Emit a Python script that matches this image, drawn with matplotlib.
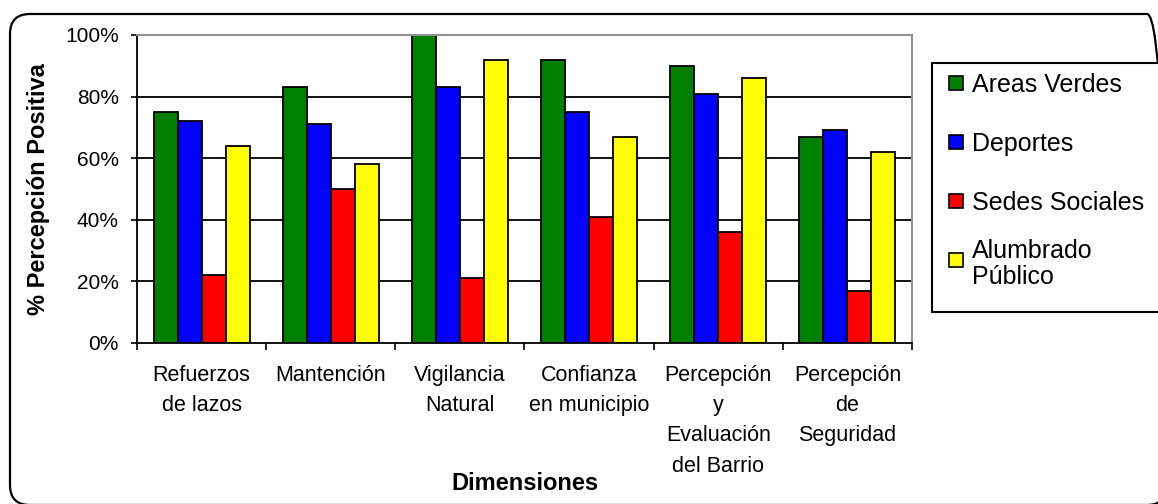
import matplotlib
matplotlib.use("Agg")
import matplotlib.pyplot as plt
import numpy as np
from matplotlib.patches import FancyBboxPatch, Rectangle
from matplotlib.ticker import FixedLocator, FuncFormatter

plt.rcParams["font.family"] = ["Liberation Sans", "DejaVu Sans"]

# datos ---------------------------------------------
dimensiones = [
    "Refuerzos\nde lazos",
    "Mantención",
    "Vigilancia\nNatural",
    "Confianza\nen municipio",
    "Percepción\ny\nEvaluación\ndel Barrio",
    "Percepción\nde\nSeguridad",
]
series = ["Areas Verdes", "Deportes", "Sedes Sociales", "Alumbrado\nPúblico"]
areas_verdes = [0.75, 0.83, 1.00, 0.92, 0.90, 0.67]
deportes = [0.72, 0.71, 0.83, 0.75, 0.81, 0.69]
sedes_sociales = [0.22, 0.50, 0.21, 0.41, 0.36, 0.17]
alumbrado = [0.64, 0.58, 0.92, 0.67, 0.86, 0.62]
y_ticks = [0.0, 0.2, 0.4, 0.6, 0.8, 1.0]

werte = [areas_verdes, deportes, sedes_sociales, alumbrado]
farben = ["#008000", "#0000FF", "#FF0000", "#FFFF00"]

W, H = 1158, 504
fig = plt.figure(figsize=(W / 100, H / 100), dpi=100)
ax = fig.add_axes([137 / W, 1 - 343 / H, 775 / W, 308 / H])

x = np.arange(len(dimensiones))
breite = 0.186

ax.hlines(y_ticks[1:-1], -0.5, len(dimensiones) - 0.5, colors="black", linewidth=1.3, zorder=1)

for j, (name, vals) in enumerate(zip(series, werte)):
    ax.bar(x + (j - 1.5) * breite, vals, width=breite, color=farben[j],
           edgecolor="black", linewidth=1.3, zorder=2, label=name)

ax.set_xlim(-0.5, len(dimensiones) - 0.5)
ax.set_ylim(0, 1)

ax.set_yticks(y_ticks)
ax.yaxis.set_major_formatter(FuncFormatter(lambda v, p: f"{v * 100:.0f}%"))
ax.tick_params(axis="y", direction="out", length=4.5, width=1.2, pad=8.5, labelsize=15)

ax.xaxis.set_major_locator(FixedLocator(np.arange(len(dimensiones) + 1) - 0.5))
ax.xaxis.set_minor_locator(FixedLocator(x))
ax.set_xticklabels([], minor=False)
ax.set_xticklabels(dimensiones, minor=True, fontsize=15.5, linespacing=1.57)
ax.tick_params(axis="x", which="major", direction="out", length=5, width=1.2)
ax.tick_params(axis="x", which="minor", length=0, pad=16)

for s in ["left", "bottom"]:
    ax.spines[s].set_color("black")
    ax.spines[s].set_linewidth(1.3)
for s in ["top", "right"]:
    ax.spines[s].set_color("#909090")
    ax.spines[s].set_linewidth(1.5)

ax.set_xlabel("Dimensiones", fontsize=17, fontweight="bold", va="center")
ax.xaxis.set_label_coords(0.5, (343 - 484) / 308)
ax.set_ylabel("% Percepción Positiva", fontsize=17, fontweight="bold", va="center")
ax.yaxis.set_label_coords((38 - 137) / 775, 0.5)

# rahmen aussen
trans = fig.dpi_scale_trans
rahmen = FancyBboxPatch((0.10, -0.01), 11.57, 4.91,
                        boxstyle="round,pad=0,rounding_size=0.2",
                        transform=trans, facecolor="none", edgecolor="black",
                        linewidth=1.6, clip_on=False)
fig.patches.append(rahmen)

# legende
leg_box = Rectangle((9.32, (H - 312) / 100), 2.5, (312 - 63) / 100, transform=trans,
                    facecolor="white", edgecolor="black", linewidth=1.5, clip_on=False)
fig.patches.append(leg_box)
for k, (name, farbe) in enumerate(zip(series, farben)):
    yc = (H - (83 + 59 * k)) / 100
    fig.patches.append(Rectangle((9.485, yc - 0.07), 0.14, 0.14, transform=trans,
                                 facecolor=farbe, edgecolor="black", linewidth=1.2))
    fig.text(9.72, yc, name, transform=trans, fontsize=18, va="center_baseline",
             ha="left", linespacing=1.15)

plt.savefig("out.png", dpi=100)
